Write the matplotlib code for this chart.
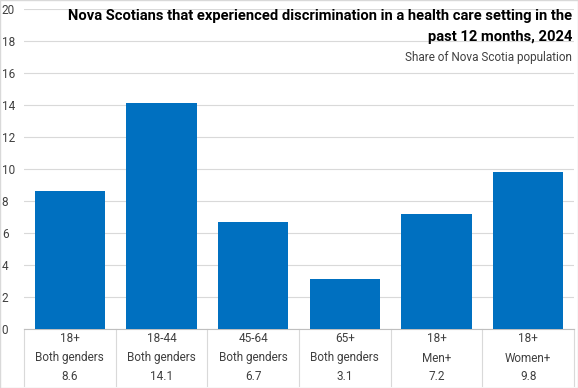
import matplotlib
matplotlib.use("Agg")
import matplotlib.pyplot as plt
import matplotlib.transforms as mtransforms

ages = ["18+", "18-44", "45-64", "65+", "18+", "18+"]
genders = ["Both genders", "Both genders", "Both genders", "Both genders", "Men+", "Women+"]
values = [8.6, 14.1, 6.7, 3.1, 7.2, 9.8]
yticks = [0, 2, 4, 6, 8, 10, 12, 14, 16, 18, 20]

plt.rcParams['font.family'] = ['Roboto', 'DejaVu Sans']

W, H = 578, 388
fig = plt.figure(figsize=(W/100, H/100), dpi=100)
L, R, B, T = 24, 574, 329, 9
ax = fig.add_axes([L/W, 1-B/H, (R-L)/W, (B-T)/H])

x = list(range(len(values)))
ax.bar(x, values, width=0.77, color="#0070C0", zorder=3)
ax.set_xlim(-0.5, len(values)-0.5)
ax.set_ylim(0, 20)
ax.set_yticks(yticks)
ax.set_yticklabels([str(t) for t in yticks], fontsize=8.5, color="#404040")
for lbl in ax.get_yticklabels():
    lbl.set_horizontalalignment("left")
ax.tick_params(axis="y", length=0, pad=16)
ax.set_xticks([])
ax.grid(axis="y", color="#D9D9D9", linewidth=0.8, zorder=0)
for s in ["top", "right", "left"]:
    ax.spines[s].set_visible(False)
ax.spines["bottom"].set_color("#BFBFBF")
ax.spines["bottom"].set_linewidth(0.8)

trans = mtransforms.blended_transform_factory(ax.transData, ax.transAxes)
ah = (B - T)
def ay(py):
    return -(py - B) / ah
for i in x:
    ax.text(i, ay(339), ages[i], transform=trans, ha="center", va="center", fontsize=8.5, color="#404040")
    ax.text(i, ay(358), genders[i], transform=trans, ha="center", va="center", fontsize=8.5, color="#404040")
    ax.text(i, ay(377), f"{values[i]:.1f}", transform=trans, ha="center", va="center", fontsize=8.5, color="#404040")
for b in [i - 0.5 for i in range(len(values)+1)]:
    ax.plot([b, b], [0, ay(386)], transform=trans, color="#D9D9D9", linewidth=0.8, clip_on=False)

fig.text(572/W, 1-16/H, "Nova Scotians that experienced discrimination in a health care setting in the",
         ha="right", va="center", fontsize=10.6, fontweight="bold", color="#000000")
fig.text(572/W, 1-37/H, "past 12 months, 2024",
         ha="right", va="center", fontsize=10.6, fontweight="bold", color="#000000")
fig.text(572/W, 1-57/H, "Share of Nova Scotia population",
         ha="right", va="center", fontsize=8.5, color="#404040")

fig.patches.append(plt.Rectangle((0, 0), 1, 1, transform=fig.transFigure, fill=False,
                                 edgecolor="#D9D9D9", linewidth=1))
fig.savefig("out.png", dpi=100)
